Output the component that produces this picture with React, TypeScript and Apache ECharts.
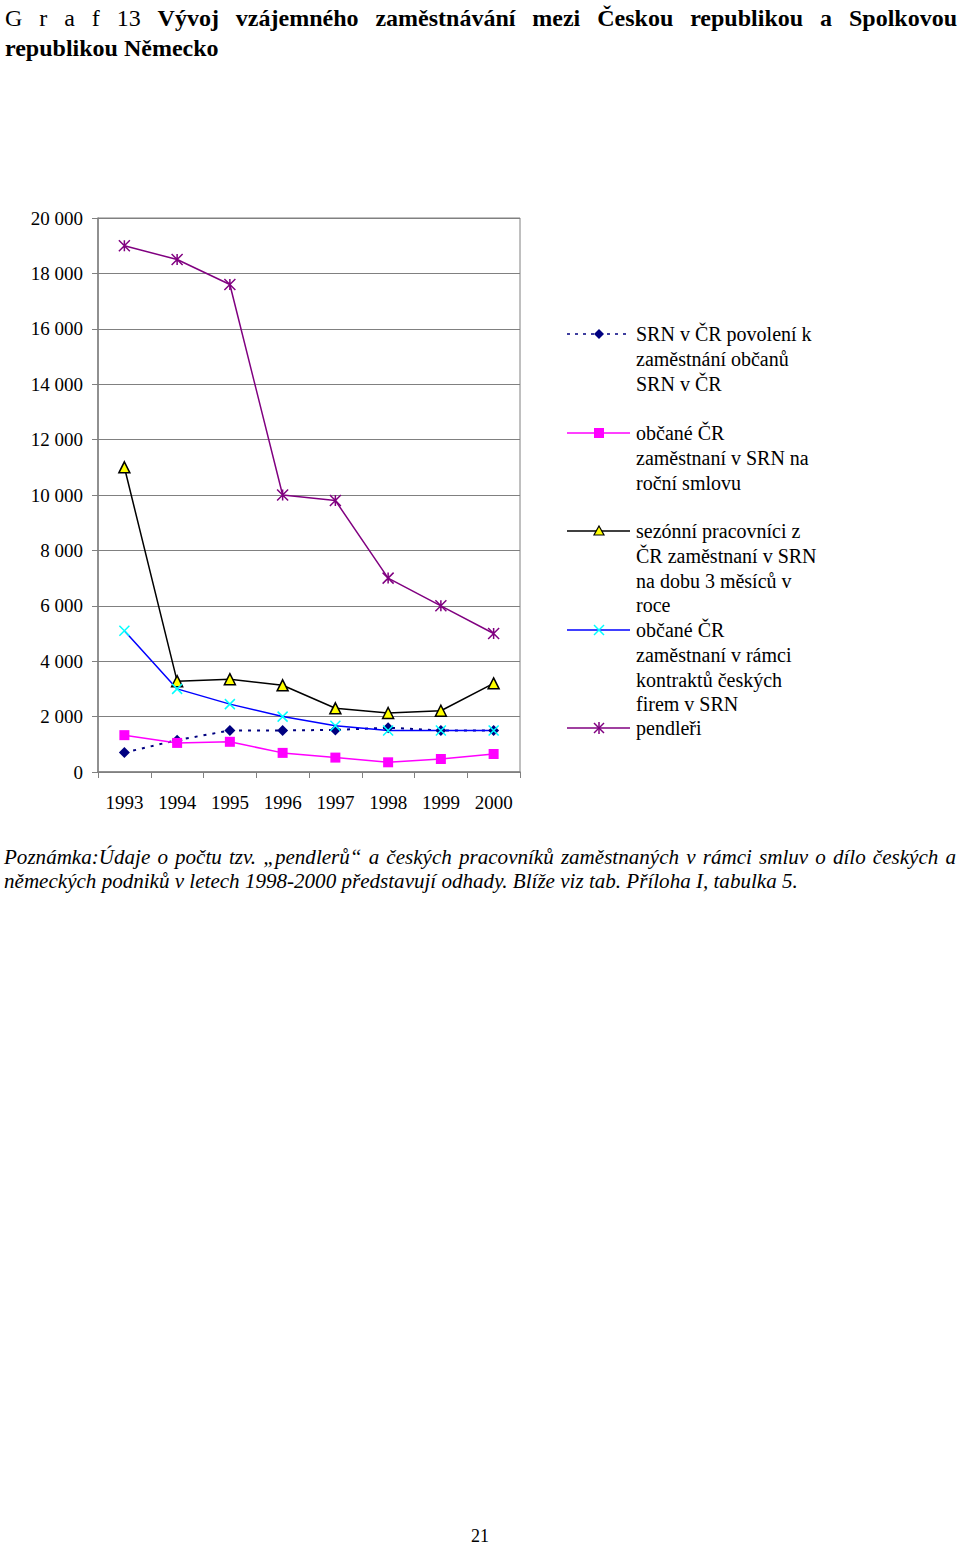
import React, { useEffect, useRef } from "react";
import * as echarts from "echarts";

const years = ["1993", "1994", "1995", "1996", "1997", "1998", "1999", "2000"];
const srnVCr = [700, 1150, 1500, 1500, 1520, 1600, 1500, 1500];
const rocniSmlouva = [1330, 1050, 1090, 690, 520, 350, 470, 650];
const sezonni = [11000, 3280, 3350, 3130, 2300, 2130, 2210, 3200];
const kontrakty = [5100, 3000, 2450, 2000, 1670, 1500, 1500, 1500];
const pendleri = [19000, 18500, 17600, 10000, 9800, 7000, 6000, 5000];

const seriesNames = [
  "SRN v ČR povolení k zaměstnání občanů SRN v ČR",
  "občané ČR zaměstnaní v SRN na roční smlovu",
  "sezónní pracovníci z ČR zaměstnaní v SRN na dobu 3 měsíců v roce",
  "občané ČR zaměstnaní v rámci kontraktů českých firem v SRN",
  "pendleři",
];
const legendLines = [
  ["SRN v ČR povolení k", "zaměstnání občanů", "SRN v ČR"],
  ["občané ČR", "zaměstnaní v SRN na", "roční smlovu"],
  ["sezónní pracovníci z", "ČR zaměstnaní v SRN", "na dobu 3 měsíců v", "roce"],
  ["občané ČR", "zaměstnaní v rámci", "kontraktů českých", "firem v SRN"],
  ["pendleři"],
];

const titlePrefix = ["G", "r", "a", "f", "13"];
const titleWords = ["Vývoj", "vzájemného", "zaměstnávání", "mezi", "Českou", "republikou", "a", "Spolkovou"];
const titleLine2 = "republikou Německo";
const noteLine1 =
  "Poznámka:Údaje o počtu tzv. „pendlerů“ a českých pracovníků zaměstnaných v rámci smluv o dílo českých a";
const noteLine2 =
  "německých podniků v letech 1998-2000 představují odhady. Blíže viz tab. Příloha I, tabulka 5.";
const pageNumber = "21";

const SERIF = "'Liberation Serif', 'Times New Roman', serif";
const X_PATH = "path://M0,0L10,10M10,0L0,10";
const STAR_PATH = "path://M0,0L10,10M10,0L0,10M5,0L5,10";

function measure(ctx: CanvasRenderingContext2D, text: string, font: string) {
  ctx.font = font;
  return ctx.measureText(text).width;
}

export default function App() {
  const ref = useRef<HTMLDivElement>(null);

  useEffect(() => {
    if (!ref.current) return;
    const chart = echarts.init(ref.current, undefined, { renderer: "svg" });
    const canvas = document.createElement("canvas");
    const ctx = canvas.getContext("2d") as CanvasRenderingContext2D;

    const graphics: any[] = [];

    // Title line 1, justified
    const tFontN = `normal 24px ${SERIF}`;
    const tFontB = `bold 24px ${SERIF}`;
    const tokens = [
      ...titlePrefix.map((t) => ({ t, bold: false })),
      ...titleWords.map((t) => ({ t, bold: true })),
    ];
    const widths = tokens.map((k) => measure(ctx, k.t, k.bold ? tFontB : tFontN));
    const total = widths.reduce((a, b) => a + b, 0);
    const tL = 5,
      tR = 957;
    const gap = (tR - tL - total) / (tokens.length - 1);
    let cx = tL;
    tokens.forEach((k, i) => {
      graphics.push({
        type: "text",
        x: cx,
        y: 18,
        style: {
          text: k.t,
          font: k.bold ? tFontB : tFontN,
          fill: "#000",
          align: "left",
          verticalAlign: "middle",
          textAlign: "left",
          textVerticalAlign: "middle",
        },
      });
      cx += widths[i] + gap;
    });
    graphics.push({
      type: "text",
      x: 5,
      y: 48,
      style: {
        text: titleLine2,
        font: tFontB,
        fill: "#000",
        align: "left",
        verticalAlign: "middle",
        textAlign: "left",
        textVerticalAlign: "middle",
      },
    });

    // Note
    const nBase = measure(ctx, noteLine2, `italic 18px ${SERIF}`);
    const nSize = Math.max(14, Math.min(22, (18 * 794) / nBase));
    const nFont = `italic ${nSize.toFixed(2)}px ${SERIF}`;
    const nWords = noteLine1.split(" ");
    const nW = nWords.map((w) => measure(ctx, w, nFont));
    const nTotal = nW.reduce((a, b) => a + b, 0);
    const nGap = (956 - 4 - nTotal) / (nWords.length - 1);
    let nx = 4;
    nWords.forEach((w, i) => {
      graphics.push({
        type: "text",
        x: nx,
        y: 857,
        style: {
          text: w,
          font: nFont,
          fill: "#000",
          align: "left",
          verticalAlign: "middle",
          textAlign: "left",
          textVerticalAlign: "middle",
        },
      });
      nx += nW[i] + nGap;
    });
    graphics.push({
      type: "text",
      x: 4,
      y: 881,
      style: {
        text: noteLine2,
        font: nFont,
        fill: "#000",
        align: "left",
        verticalAlign: "middle",
        textAlign: "left",
        textVerticalAlign: "middle",
      },
    });

    graphics.push({
      type: "text",
      x: 480,
      y: 1536,
      style: {
        text: pageNumber,
        font: `18px ${SERIF}`,
        fill: "#000",
        align: "center",
        verticalAlign: "middle",
        textAlign: "center",
        textVerticalAlign: "middle",
      },
    });

    // Legend
    const legendY = [334, 433, 531, 630, 728];
    const lineColors = ["#000080", "#ff00ff", "#000000", "#0000ff", "#800080"];
    const lx1 = 567,
      lx2 = 630,
      mx = 599;
    legendY.forEach((y, i) => {
      graphics.push({
        type: "line",
        shape: { x1: lx1, y1: y, x2: lx2, y2: y },
        style: {
          stroke: lineColors[i],
          lineWidth: 1.5,
          lineDash: i === 0 ? [3, 5] : null,
        },
      });
      if (i === 0) {
        graphics.push({
          type: "polygon",
          shape: { points: [[mx, y - 5], [mx + 5, y], [mx, y + 5], [mx - 5, y]] },
          style: { fill: "#000080" },
        });
      } else if (i === 1) {
        graphics.push({
          type: "rect",
          shape: { x: mx - 5, y: y - 5, width: 10, height: 10 },
          style: { fill: "#ff00ff" },
        });
      } else if (i === 2) {
        graphics.push({
          type: "polygon",
          shape: { points: [[mx, y - 5], [mx + 5, y + 4], [mx - 5, y + 4]] },
          style: { fill: "#ffff00", stroke: "#000", lineWidth: 1.2 },
        });
      } else if (i === 3) {
        graphics.push({
          type: "line",
          shape: { x1: mx - 5, y1: y - 5, x2: mx + 5, y2: y + 5 },
          style: { stroke: "#00ffff", lineWidth: 1.5 },
        });
        graphics.push({
          type: "line",
          shape: { x1: mx + 5, y1: y - 5, x2: mx - 5, y2: y + 5 },
          style: { stroke: "#00ffff", lineWidth: 1.5 },
        });
      } else {
        graphics.push({
          type: "line",
          shape: { x1: mx - 5, y1: y - 5, x2: mx + 5, y2: y + 5 },
          style: { stroke: "#800080", lineWidth: 1.5 },
        });
        graphics.push({
          type: "line",
          shape: { x1: mx + 5, y1: y - 5, x2: mx - 5, y2: y + 5 },
          style: { stroke: "#800080", lineWidth: 1.5 },
        });
        graphics.push({
          type: "line",
          shape: { x1: mx, y1: y - 6, x2: mx, y2: y + 6 },
          style: { stroke: "#800080", lineWidth: 1.5 },
        });
      }
      legendLines[i].forEach((t, j) => {
        graphics.push({
          type: "text",
          x: 636,
          y: y + j * 24.8,
          style: {
            text: t,
            font: `20px ${SERIF}`,
            fill: "#000",
            align: "left",
            verticalAlign: "middle",
            textAlign: "left",
            textVerticalAlign: "middle",
          },
        });
      });
    });

    const axisGray = "#808080";
    const fmt = (v: number) => String(v).replace(/\B(?=(\d{3})+(?!\d))/g, " ");

    chart.setOption({
      animation: false,
      backgroundColor: "#ffffff",
      textStyle: { fontFamily: SERIF },
      grid: {
        left: 98,
        top: 218,
        width: 422,
        height: 554,
        show: true,
        borderColor: axisGray,
        borderWidth: 1,
        backgroundColor: "transparent",
      },
      xAxis: {
        type: "category",
        data: years,
        boundaryGap: true,
        axisLine: { lineStyle: { color: axisGray, width: 1.5 } },
        axisTick: { show: true, length: 6, lineStyle: { color: axisGray } },
        axisLabel: { color: "#000", fontSize: 19, fontFamily: SERIF, margin: 21 },
      },
      yAxis: {
        type: "value",
        min: 0,
        max: 20000,
        interval: 2000,
        axisLine: { show: true, lineStyle: { color: axisGray, width: 1.5 } },
        axisTick: { show: true, length: 6, lineStyle: { color: axisGray } },
        splitLine: { show: true, lineStyle: { color: axisGray, width: 1 } },
        axisLabel: {
          color: "#000",
          fontSize: 19,
          fontFamily: SERIF,
          margin: 15,
          formatter: fmt,
        },
      },
      series: [
        {
          name: seriesNames[0],
          type: "line",
          data: srnVCr,
          symbol: "diamond",
          symbolSize: 11,
          itemStyle: { color: "#000080" },
          lineStyle: { color: "#000080", width: 2, type: [3, 6] },
          z: 3,
        },
        {
          name: seriesNames[1],
          type: "line",
          data: rocniSmlouva,
          symbol: "rect",
          symbolSize: 10,
          itemStyle: { color: "#ff00ff" },
          lineStyle: { color: "#ff00ff", width: 1.5 },
        },
        {
          name: seriesNames[2],
          type: "line",
          data: sezonni,
          symbol: "triangle",
          symbolSize: 11,
          itemStyle: { color: "#ffff00", borderColor: "#000", borderWidth: 1.5 },
          lineStyle: { color: "#000000", width: 1.5 },
        },
        {
          name: seriesNames[3],
          type: "line",
          data: kontrakty,
          symbol: X_PATH,
          symbolSize: 10,
          itemStyle: { color: "none", borderColor: "#00ffff", borderWidth: 1.5 },
          lineStyle: { color: "#0000ff", width: 1.5 },
        },
        {
          name: seriesNames[4],
          type: "line",
          data: pendleri,
          symbol: STAR_PATH,
          symbolSize: 11,
          itemStyle: { color: "none", borderColor: "#800080", borderWidth: 1.5 },
          lineStyle: { color: "#800080", width: 1.5 },
        },
      ],
      graphic: graphics,
    });

    return () => chart.dispose();
  }, []);

  return (
    <div
      ref={ref}
      style={{ position: "absolute", left: 0, top: 0, width: 960, height: 1545, background: "#fff" }}
    />
  );
}
